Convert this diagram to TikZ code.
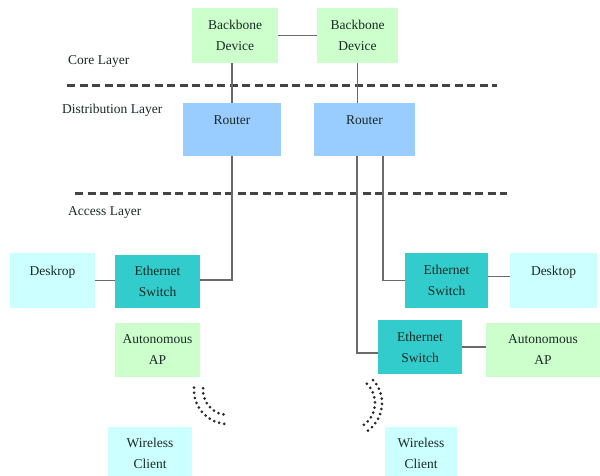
\documentclass[tikz,border=0pt]{standalone}
\usepackage{fontspec}
\setmainfont{Liberation Serif}
\usetikzlibrary{calc}

\definecolor{paleGreen}{HTML}{CCFFCC}
\definecolor{paleCyan}{HTML}{CCFFFF}
\definecolor{routerBlue}{HTML}{99CCFF}
\definecolor{switchTeal}{HTML}{33CCCC}
\definecolor{labelInk}{HTML}{1A2A24}
\definecolor{wireGray}{HTML}{6A6A6A}
\definecolor{sepGray}{HTML}{444444}
\definecolor{waveGray}{HTML}{2A2A2A}

\newcommand{\netfont}{\fontsize{13.5}{21}\selectfont}

\tikzset{
  x=1pt, y=1pt,
  unit/.style={rectangle, inner sep=0pt, align=center, font=\netfont, text=labelInk},
  core/.style={unit, fill=paleGreen},
  apbox/.style={unit, fill=paleGreen},
  router/.style={unit, fill=routerBlue},
  host/.style={unit, fill=paleCyan},
  switchbox/.style={unit, fill=switchTeal},
  inlabel/.style={anchor=center, yshift=-#1, font=\netfont, text=labelInk},
  layername/.style={anchor=west, inner sep=0pt, font=\netfont, text=labelInk},
  wire/.style={draw=wireGray, line width=1.6pt},
  separator/.style={draw=sepGray, line width=3pt, dash pattern=on 8pt off 4.5pt},
  wave/.style={draw=waveGray, line width=3pt, line cap=round, dash pattern=on 0pt off 5.2pt}
}

\begin{document}
\begin{tikzpicture}
  % page frame
  \fill[white] (0,0) rectangle (600,-475);
  \useasboundingbox (0,0) rectangle (600,-475);

  % layer names
  \node[layername] (coreName) at (68,-61) {Core Layer};
  \node[layername] (distName) at (62,-110) {Distribution Layer};
  \node[layername] (accName)  at (68,-212) {Access Layer};

  % layer separators
  \draw[separator] (67,-85) -- (497,-85);
  \draw[separator] (75,-193) -- (507,-193);

  % core layer
  \node[core, minimum width=86, minimum height=55] (bb1) at (235,-35.5) {Backbone\\Device};
  \node[core, minimum width=81, minimum height=55] (bb2) at (357.5,-35.5) {Backbone\\Device};

  % distribution layer
  \node[router, minimum width=98, minimum height=53,
        label={[inlabel=17pt]north:Router}] (r1) at (232,-129.5) {};
  \node[router, minimum width=101, minimum height=53,
        label={[inlabel=17pt]north:Router}] (r2) at (364.5,-129.5) {};

  % access layer, left side
  \node[host, minimum width=85, minimum height=55,
        label={[inlabel=19pt]north:Deskrop}] (dk1) at (52.5,-280.5) {};
  \node[switchbox, minimum width=85, minimum height=53] (es1) at (157.5,-281.5) {Ethernet\\Switch};
  \node[apbox, minimum width=85, minimum height=54] (ap1) at (157.5,-350) {Autonomous\\AP};
  \node[host, minimum width=84, minimum height=53] (wc1) at (150,-453.5) {Wireless\\Client};

  % access layer, right side
  \node[switchbox, minimum width=83, minimum height=55] (es2) at (446.5,-280.5) {Ethernet\\Switch};
  \node[host, minimum width=87, minimum height=55,
        label={[inlabel=19pt]north:Desktop}] (dt2) at (553.5,-280.5) {};
  \node[switchbox, minimum width=84, minimum height=54] (es3) at (420,-347) {Ethernet\\Switch};
  \node[apbox, minimum width=114, minimum height=54] (ap2) at (543,-350) {Autonomous\\AP};
  \node[host, minimum width=72, minimum height=53] (wc2) at (421,-453.5) {Wireless\\Client};

  % uplinks from the second router
  \coordinate (r2a) at ($(r2.south west)!0.425!(r2.south east)$);
  \coordinate (r2b) at ($(r2.south west)!0.68!(r2.south east)$);

  % wired links
  \draw[wire] (bb1.east) -- (bb2.west);
  \draw[wire] (bb1.south -| r1.north) -- (r1.north);
  \draw[wire] (bb2.south) -- (bb2.south |- r2.north);
  \draw[wire] (r1.south) |- ([yshift=1.5pt]es1.east);
  \draw[wire] (dk1.east) -- (dk1.east -| es1.west);
  \draw[wire] (r2b) |- (es2.west);
  \draw[wire] ([yshift=4pt]es2.east) -- ([yshift=4pt]dt2.west);
  \draw[wire] (r2a) |- ([yshift=-6pt]es3.west);
  \draw[wire] (es3.east) -- (es3.east -| ap2.west);

  % radio waves
  \coordinate (waveL) at (228,-390);
  \coordinate (waveR) at (348,-403);
  \draw[wave] (waveL) ++(176:25pt) arc[start angle=176, end angle=266, radius=25pt];
  \draw[wave] (waveL) ++(176:34pt) arc[start angle=176, end angle=264, radius=34pt];
  \draw[wave] (waveR) ++(-54:27pt) arc[start angle=-54, end angle=50, radius=27pt];
  \draw[wave] (waveR) ++(-54:34pt) arc[start angle=-54, end angle=50, radius=34pt];
\end{tikzpicture}
\end{document}
